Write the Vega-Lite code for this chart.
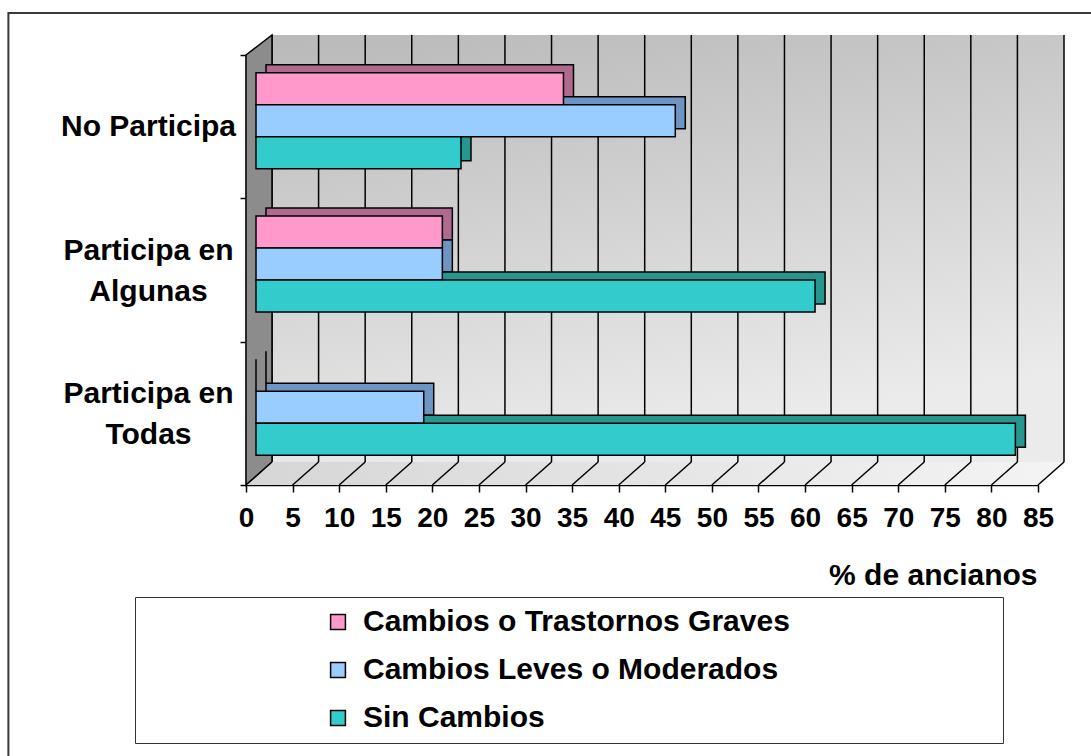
{
  "$schema": "https://vega.github.io/schema/vega-lite/v6.json",
  "width": 792,
  "height": 430,
  "autosize": {"type": "none"},
  "padding": {"left": 246, "top": 55, "right": 53, "bottom": 271},
  "background": "white",
  "config": {
    "view": {"stroke": null},
    "font": "Liberation Sans",
    "axis": {
      "labelFont": "Liberation Sans", "labelFontWeight": "bold", "labelFontSize": 28, "labelColor": "black",
      "domainColor": "black", "domainWidth": 1.5, "tickColor": "black", "tickWidth": 1.5, "grid": false,
      "titleFont": "Liberation Sans", "titleFontWeight": "bold", "titleFontSize": 30, "titleColor": "black",
      "zindex": 1
    },
    "axisX": {"tickSize": 7, "labelPadding": 12, "labelFlush": false},
    "axisY": {"tickSize": 6, "labelAlign": "center", "labelPadding": 92, "labelLineHeight": 41, "tickBand": "extent", "labelBaseline": "middle", "labelFontSize": 30},
    "legend": {
      "labelFont": "Liberation Sans", "labelFontWeight": "bold", "labelFontSize": 30, "labelColor": "black",
      "titleFont": "Liberation Sans"
    }
  },
  "datasets": {
    "bars": [
      {"cat": "No Participa", "serie": "Cambios o Trastornos Graves", "value": 33},
      {"cat": "No Participa", "serie": "Cambios Leves o Moderados", "value": 45},
      {"cat": "No Participa", "serie": "Sin Cambios", "value": 22},
      {"cat": "Participa en Algunas", "serie": "Cambios o Trastornos Graves", "value": 20},
      {"cat": "Participa en Algunas", "serie": "Cambios Leves o Moderados", "value": 20},
      {"cat": "Participa en Algunas", "serie": "Sin Cambios", "value": 60},
      {"cat": "Participa en Todas", "serie": "Cambios o Trastornos Graves", "value": 0},
      {"cat": "Participa en Todas", "serie": "Cambios Leves o Moderados", "value": 18},
      {"cat": "Participa en Todas", "serie": "Sin Cambios", "value": 81.5}
    ],
    "ticks": [
      {"t": 0}, {"t": 5}, {"t": 10}, {"t": 15}, {"t": 20}, {"t": 25}, {"t": 30}, {"t": 35}, {"t": 40},
      {"t": 45}, {"t": 50}, {"t": 55}, {"t": 60}, {"t": 65}, {"t": 70}, {"t": 75}, {"t": 80}, {"t": 85}
    ],
    "wall": [{"xa": 2.79, "xb": 87.79, "lo": 23, "hi": 450}],
    "leftwall": [{"wx": 0, "lo": 0, "hi": 430}, {"wx": 2.79, "lo": 23, "hi": 450}],
    "floor": [{"h": 0, "fa": 0, "fb": 85}, {"h": 23, "fa": 2.79, "fb": 87.79}],
    "frame": [{"fx1": -25.5, "fx2": 120, "fy1": 472, "fy2": -400}]
  },
  "layer": [
    {
      "layer": [
        {
          "data": {"name": "frame"},
          "mark": {"type": "rect", "fill": null, "stroke": "#3a3a3a", "strokeWidth": 2},
          "encoding": {
            "x": {"field": "fx1", "type": "quantitative", "scale": {"domain": [0, 85], "nice": false}},
            "x2": {"field": "fx2"},
            "y": {"field": "fy1", "type": "quantitative", "scale": {"domain": [0, 430], "nice": false}, "axis": null},
            "y2": {"field": "fy2"}
          }
        },
        {
          "data": {"name": "wall"},
          "mark": {"type": "rect", "color": {"gradient": "linear", "x1": 0, "y1": 0, "x2": 0.3, "y2": 1, "stops": [{"offset": 0, "color": "#b9b9b9"}, {"offset": 1, "color": "#ebebeb"}]}},
          "encoding": {
            "x": {"field": "xa", "type": "quantitative"},
            "x2": {"field": "xb"},
            "y": {"field": "hi", "type": "quantitative", "axis": null},
            "y2": {"field": "lo"}
          }
        },
        {
          "data": {"name": "ticks"},
          "mark": {"type": "rule", "color": "black", "strokeWidth": 1.5, "xOffset": 26, "x2Offset": 26},
          "encoding": {
            "x": {"field": "t", "type": "quantitative"},
            "x2": {"field": "t"},
            "y": {"datum": 23, "type": "quantitative", "axis": null},
            "y2": {"datum": 450}
          }
        },
        {
          "data": {"name": "leftwall"},
          "mark": {"type": "area", "orient": "vertical", "color": "#8c8c8c", "stroke": "black", "strokeWidth": 1.5},
          "encoding": {
            "x": {"field": "wx", "type": "quantitative"},
            "y": {"field": "hi", "type": "quantitative", "axis": null},
            "y2": {"field": "lo"}
          }
        },
        {
          "data": {"name": "floor"},
          "mark": {"type": "area", "orient": "horizontal", "color": {"gradient": "linear", "x1": 0, "y1": 0, "x2": 1, "y2": 0, "stops": [{"offset": 0, "color": "#d6d6d6"}, {"offset": 1, "color": "#f4f4f4"}]}},
          "encoding": {
            "y": {"field": "h", "type": "quantitative", "axis": null},
            "x": {"field": "fa", "type": "quantitative"},
            "x2": {"field": "fb"}
          }
        },
        {
          "data": {"name": "ticks"},
          "mark": {"type": "rule", "color": "black", "strokeWidth": 1.5, "x2Offset": 26},
          "encoding": {
            "x": {"field": "t", "type": "quantitative"},
            "x2": {"field": "t"},
            "y": {"datum": 0, "type": "quantitative", "axis": null},
            "y2": {"datum": 23}
          }
        }
      ]
    },
    {
      "data": {"name": "bars"},
      "mark": {"type": "point", "opacity": 0},
      "encoding": {
        "y": {
          "field": "cat", "type": "nominal",
          "scale": {"type": "band", "domain": ["No Participa", "Participa en Algunas", "Participa en Todas"], "paddingInner": 0, "paddingOuter": 0},
          "axis": {
            "title": null,
            "labelExpr": "datum.value == 'No Participa' ? 'No Participa' : (datum.value == 'Participa en Algunas' ? ['Participa en', 'Algunas'] : (datum.value == 'Participa en Todas' ? ['Participa en', 'Todas'] : ''))",
            "labelOffset": {"condition": {"test": "datum.value == 'No Participa'", "value": 0}, "value": -20}
          }
        }
      }
    },
    {
      "data": {"name": "bars"},
      "mark": {"type": "bar", "xOffset": 20, "x2Offset": 20, "stroke": "black", "strokeWidth": 1.5},
      "encoding": {
        "x": {"field": "value", "type": "quantitative"},
        "y": {"field": "cat", "type": "nominal", "axis": null,
          "scale": {"domain": ["No Participa", "Participa en Algunas", "Participa en Todas"], "paddingInner": 0.33, "paddingOuter": 0.165, "range": [-14, 416]}},
        "yOffset": {"field": "serie", "type": "nominal", "scale": {"domain": ["Cambios o Trastornos Graves", "Cambios Leves o Moderados", "Sin Cambios"]}},
        "color": {"field": "serie", "type": "nominal", "legend": null, "scale": {"domain": ["Cambios o Trastornos Graves", "Cambios Leves o Moderados", "Sin Cambios"], "range": ["#b06a90", "#6c95c4", "#25978f"]}}
      }
    },
    {
      "data": {"name": "bars"},
      "mark": {"type": "bar", "xOffset": 10, "x2Offset": 10, "stroke": "black", "strokeWidth": 1.5, "opacity": 1},
      "encoding": {
        "x": {
          "field": "value", "type": "quantitative",
          "scale": {"domain": [0, 85], "nice": false},
          "axis": {"title": "% de ancianos", "values": [0, 5, 10, 15, 20, 25, 30, 35, 40, 45, 50, 55, 60, 65, 70, 75, 80, 85], "titleAnchor": "end", "titleAlign": "right", "titleX": 791, "titleY": 99, "titleBaseline": "alphabetic"}
        },
        "y": {
          "field": "cat", "type": "nominal", "axis": null,
          "scale": {"domain": ["No Participa", "Participa en Algunas", "Participa en Todas"], "paddingInner": 0.33, "paddingOuter": 0.165, "range": [-6, 424]}
        },
        "yOffset": {"field": "serie", "type": "nominal", "scale": {"domain": ["Cambios o Trastornos Graves", "Cambios Leves o Moderados", "Sin Cambios"]}},
        "color": {
          "field": "serie", "type": "nominal",
          "scale": {"domain": ["Cambios o Trastornos Graves", "Cambios Leves o Moderados", "Sin Cambios"], "range": ["#ff99cc", "#99ccff", "#33cccc"]},
          "legend": {
            "title": " ", "titleOrient": "right", "titlePadding": 203, "titleFontSize": 10,
            "orient": "none", "legendX": -111, "legendY": 542,
            "strokeColor": "#333333", "fillColor": "white", "padding": 10,
            "symbolType": "square", "symbolSize": 220, "symbolStrokeColor": "black", "symbolStrokeWidth": 1.5, "symbolOpacity": 1,
            "symbolOffset": 178, "labelOffset": 10, "rowPadding": 18, "labelLimit": 600
          }
        }
      }
    }
  ],
  "resolve": {"scale": {"y": "independent", "yOffset": "independent", "color": "independent"}, "axis": {"y": "independent"}}
}
